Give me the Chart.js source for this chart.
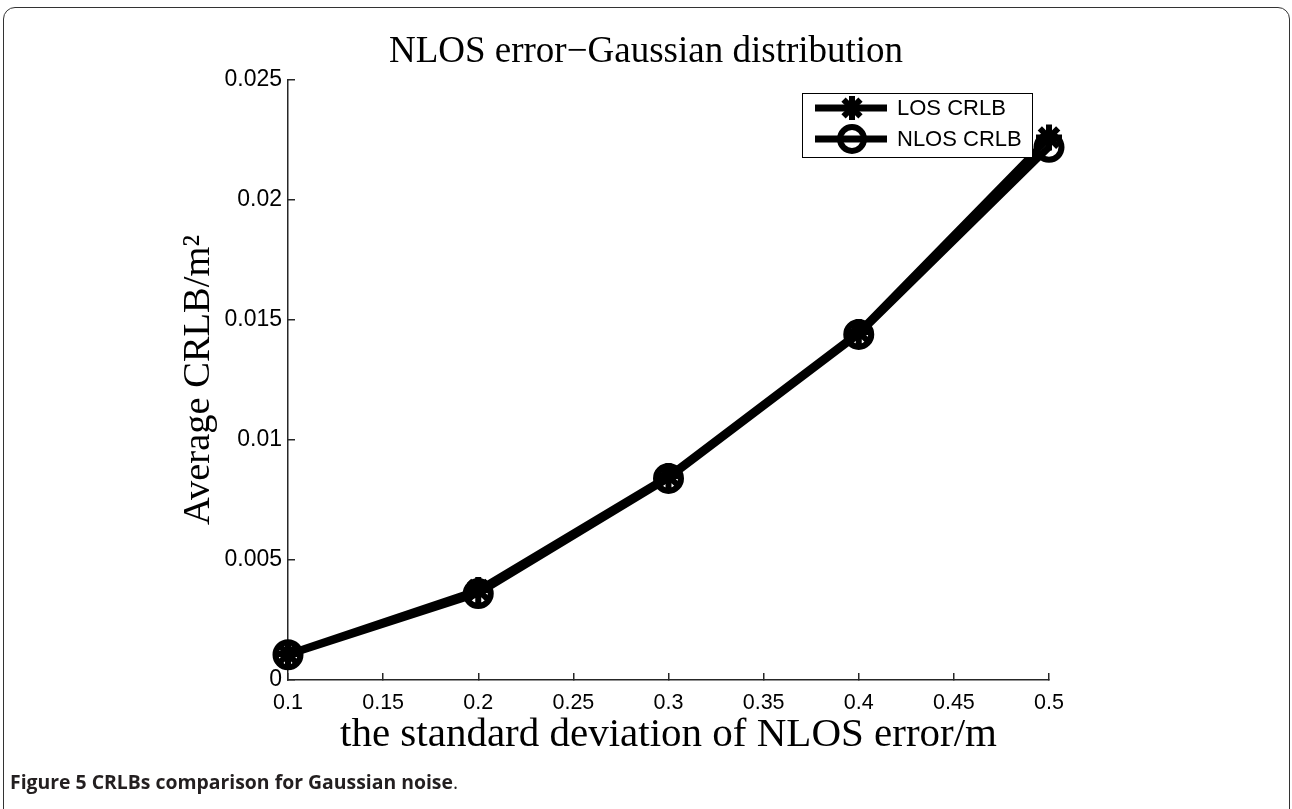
<!DOCTYPE html>
<html><head><meta charset="utf-8">
<script src="https://cdn.jsdelivr.net/npm/chart.js@4.4.1/dist/chart.umd.min.js"></script>
<style>
html,body{margin:0;padding:0;background:#fff;overflow:hidden;}
#wrap{position:relative;width:1292px;height:809px;}
#c{position:absolute;left:0;top:0;}
#frame{position:absolute;left:3px;top:7px;width:1287px;height:820px;border:1.5px solid #333;border-radius:12px;box-sizing:border-box;pointer-events:none;}
#cap{position:absolute;left:10px;top:769px;font-family:"Open Sans";font-size:19.4px;line-height:26px;color:#231f20;white-space:nowrap;}
#cap b{font-weight:700}
</style></head><body>
<div id="wrap"><canvas id="c" width="1292" height="809"></canvas><div id="frame"></div><div id="cap"><b>Figure 5 CRLBs comparison for Gaussian noise</b>.</div></div>
<script>
const xValues = [0.1, 0.2, 0.3, 0.4, 0.5];
const losCRLB = [0.00108, 0.00375, 0.0085, 0.0145, 0.0226];
const nlosCRLB = [0.00105, 0.0036, 0.0084, 0.0144, 0.0222];
const seriesNames = ['LOS CRLB', 'NLOS CRLB'];
const xTicks = [0.1, 0.15, 0.2, 0.25, 0.3, 0.35, 0.4, 0.45, 0.5];
const xTickLabels = ['0.1', '0.15', '0.2', '0.25', '0.3', '0.35', '0.4', '0.45', '0.5'];
const yTicks = [0, 0.005, 0.01, 0.015, 0.02, 0.025];
const yTickLabels = ['0', '0.005', '0.01', '0.015', '0.02', '0.025'];
const chartTitle = 'NLOS error\u2212Gaussian distribution';
const xTitle = 'the standard deviation of NLOS error/m';
const yTitle = 'Average CRLB/m\u00B2';

const AX = '#262626';
const serif = 'Liberation Serif';
const sans = 'Liberation Sans';

function drawMarker(ctx, style, x, y, r, bw) {
  ctx.save();
  ctx.strokeStyle = '#000';
  ctx.lineWidth = bw;
  ctx.beginPath();
  if (style === 'circle') {
    ctx.arc(x, y, r, 0, Math.PI * 2);
  } else {
    for (let k = 0; k < 4; k++) {
      const a = k * Math.PI / 4;
      ctx.moveTo(x - Math.cos(a) * r, y - Math.sin(a) * r);
      ctx.lineTo(x + Math.cos(a) * r, y + Math.sin(a) * r);
    }
  }
  ctx.stroke();
  ctx.restore();
}

const legendPlugin = {
  id: 'mlLegend',
  afterDraw(chart) {
    const ctx = chart.ctx;
    const ca = chart.chartArea;
    const w = 230, h = 64;
    const x0 = ca.right - 17 - w, y0 = ca.top + 13;
    ctx.save();
    ctx.fillStyle = '#fff';
    ctx.fillRect(x0, y0, w, h);
    ctx.strokeStyle = '#000';
    ctx.lineWidth = 1;
    ctx.strokeRect(x0 + 0.5, y0 + 0.5, w, h);
    chart.data.datasets.slice().sort((a, b) => a.legendIndex - b.legendIndex).forEach((ds, i) => {
      const yy = y0 + 15 + i * 31;
      ctx.strokeStyle = '#000';
      ctx.lineWidth = 7;
      ctx.beginPath();
      ctx.moveTo(x0 + 13, yy);
      ctx.lineTo(x0 + 85, yy);
      ctx.stroke();
      drawMarker(ctx, ds.pointStyle, x0 + 50, yy, 12, 6);
      ctx.fillStyle = '#000';
      ctx.font = '22px "' + sans + '"';
      ctx.textBaseline = 'middle';
      ctx.textAlign = 'left';
      ctx.fillText(ds.label, x0 + 95, yy + 1);
    });
    ctx.restore();
  }
};

new Chart(document.getElementById('c'), {
  type: 'line',
  data: {
    datasets: [
      {
        label: seriesNames[0], legendIndex: 0,
        data: xValues.map((x, i) => ({ x: x, y: losCRLB[i] })),
        borderColor: '#000', backgroundColor: '#000', borderWidth: 7,
        pointStyle: 'star', pointRadius: 13, pointBorderWidth: 6,
        pointBorderColor: '#000', pointBackgroundColor: '#000',
        tension: 0, clip: false, order: 1
      },
      {
        label: seriesNames[1], legendIndex: 1,
        data: xValues.map((x, i) => ({ x: x, y: nlosCRLB[i] })),
        borderColor: '#000', backgroundColor: 'rgba(0,0,0,0)', borderWidth: 7,
        pointStyle: 'circle', pointRadius: 12.5, pointBorderWidth: 6,
        pointBorderColor: '#000', pointBackgroundColor: 'rgba(0,0,0,0)',
        tension: 0, clip: false, order: 0
      }
    ]
  },
  options: {
    responsive: false,
    animation: false,
    layout: { padding: { left: 200, right: 200, top: 0, bottom: 0 } },
    plugins: {
      legend: { display: false },
      tooltip: { enabled: false },
      title: {
        display: true, text: chartTitle, color: '#000',
        font: { family: serif, size: 37, weight: 'normal' },
        padding: { top: 30.5, bottom: 5.1 }
      }
    },
    scales: {
      x: {
        type: 'linear', position: 'bottom', min: 0.1, max: 0.5,
        afterBuildTicks: s => { s.ticks = xTicks.map(v => ({ value: v })); },
        afterFit: s => { s.height = 129; },
        ticks: {
          callback: (v, i) => xTickLabels[i], color: '#000',
          font: { family: sans, size: 21.5 }, padding: 17, maxRotation: 0, autoSkip: false
        },
        grid: { drawOnChartArea: false, tickLength: -7, color: AX, lineWidth: 1.5 },
        border: { color: AX, width: 1.5 },
        title: { display: true, text: xTitle, color: '#000', font: { family: serif, size: 41 }, padding: { top: 0, bottom: 49.4 } }
      },
      y: {
        type: 'linear', position: 'left', min: 0, max: 0.025,
        afterBuildTicks: s => { s.ticks = yTicks.map(v => ({ value: v })); },
        afterFit: s => { s.width = 88; },
        ticks: {
          callback: (v, i) => yTickLabels[i], color: '#000',
          font: { family: sans, size: 23 }, padding: 13, autoSkip: false
        },
        grid: { drawOnChartArea: false, tickLength: -7, color: AX, lineWidth: 1.5 },
        border: { color: AX, width: 1.5 },
        title: { display: true, text: yTitle, color: '#000', font: { family: serif, size: 38.5 }, padding: { top: -24, bottom: 0 } }
      },
      yR: {
        type: 'linear', position: 'right', display: true,
        afterFit: s => { s.width = 43; },
        ticks: { display: false },
        grid: { display: false, drawTicks: false },
        border: { display: false },
        title: { display: false }
      }
    }
  },
  plugins: [legendPlugin]
});
</script>
</body></html>
